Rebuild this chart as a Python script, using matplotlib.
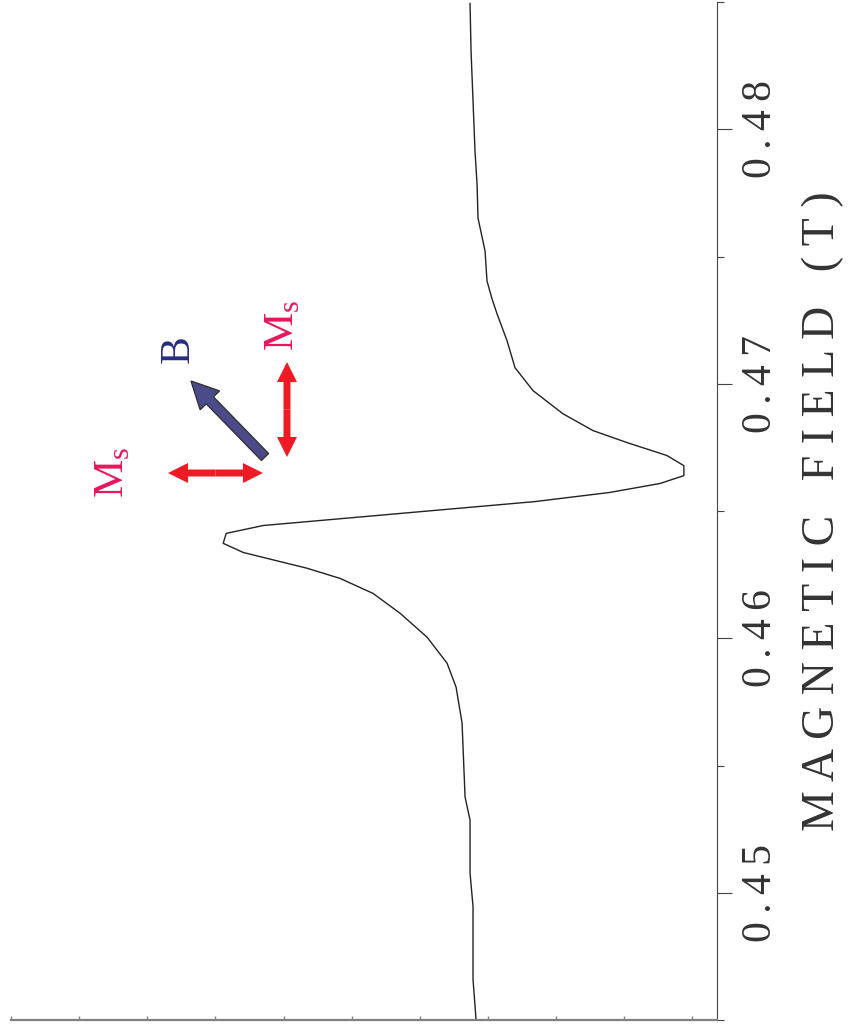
import matplotlib.pyplot as plt
from matplotlib.patches import FancyArrow
from matplotlib.ticker import MultipleLocator, FuncFormatter

plt.rcParams['font.family'] = ['Liberation Serif', 'DejaVu Serif']
plt.rcParams['mathtext.fontset'] = 'custom'
plt.rcParams['mathtext.rm'] = 'Liberation Serif'

# FMR derivative trace: field (T) against dP/dB (arb. units)
field = [0.44502, 0.44659, 0.44788, 0.44945, 0.45078, 0.45286, 0.45376,
         0.45667, 0.45808, 0.45902, 0.46004, 0.46098, 0.46176, 0.46235,
         0.46275, 0.46337, 0.46373, 0.46412, 0.46443, 0.46537, 0.46573,
         0.46608, 0.46639, 0.46678, 0.46718, 0.46769, 0.46816, 0.46882,
         0.46973, 0.47063, 0.47169, 0.47275, 0.47333, 0.47404, 0.47522,
         0.47651, 0.47784, 0.47914, 0.48110, 0.48306, 0.48494]
signal = [-0.176, -0.220, -0.220, -0.220, -0.264, -0.264, -0.337,
          -0.381, -0.469, -0.601, -0.894, -1.290, -1.686, -2.170,
          -2.654, -3.592, -3.886, -3.842, -3.299, 0.689, 1.789,
          2.522, 2.874, 2.874, 2.625, 2.038, 1.540, 1.100,
          0.660, 0.396, 0.279, 0.132, 0.059, -0.015, -0.044,
          -0.147, -0.161, -0.191, -0.220, -0.249, -0.264]

field_ticks = [0.45, 0.46, 0.47, 0.48]

W, H = 852, 1030
fig = plt.figure(figsize=(W / 100, H / 100), dpi=100)
ax = fig.add_axes([11 / W, 10 / H, 706 / W, 1018 / H])

ax.plot(signal, field, color='#222222', lw=1.0)
ax.set_xlim(-7, 3.36)
ax.set_ylim(0.445, 0.485)

for side in ('left', 'top'):
    ax.spines[side].set_visible(False)
ax.spines['bottom'].set_color('#808080')
ax.spines['bottom'].set_linewidth(1.6)
ax.spines['right'].set_color('#444444')
ax.spines['right'].set_linewidth(0.8)

ax.xaxis.set_major_locator(MultipleLocator(1))
ax.tick_params(axis='x', direction='in', length=3, width=1, color='#808080',
               labelbottom=False)

ax.yaxis.tick_right()
ax.yaxis.set_label_position('right')
ax.set_yticks(field_ticks)
ax.yaxis.set_minor_locator(MultipleLocator(0.005))
ax.yaxis.set_major_formatter(
    FuncFormatter(lambda v, pos: '\u2009'.join(f'{v:.2f}')))
ax.tick_params(axis='y', which='major', direction='out', length=10.5,
               width=0.8, color='#444444', pad=7, labelsize=30,
               labelcolor='#333333', labelrotation=90)
ax.tick_params(axis='y', which='minor', direction='out', length=5,
               width=0.8, color='#444444')
for lbl in ax.get_yticklabels():
    lbl.set_va('center')

ax.set_ylabel('M A G N E T I C   F I E L D   ( T )', fontsize=33,
              color='#333333', rotation=90, labelpad=16)

# sketch of the field and magnetisation directions
ov = fig.add_axes([0, 0, 1, 1])
ov.set_xlim(0, W)
ov.set_ylim(H, 0)
ov.axis('off')
ov.patch.set_alpha(0)

red = '#ED1C24'
pink = '#E5175A'
navy = '#262C80'


def double_arrow(x0, y0, x1, y1):
    xm, ym = (x0 + x1) / 2, (y0 + y1) / 2
    for xe, ye in ((x0, y0), (x1, y1)):
        ov.add_patch(FancyArrow(xm, ym, xe - xm, ye - ym, width=7,
                                head_width=20, head_length=20,
                                length_includes_head=True, color=red,
                                lw=0))


double_arrow(168, 473, 263, 473)
double_arrow(287, 362, 287, 457)
ov.add_patch(FancyArrow(265, 457, 191 - 265, 381 - 457, width=10,
                        head_width=27, head_length=27,
                        length_includes_head=True, fc='#4B4B8C',
                        ec='#333333', lw=1.0))

ov.text(179, 349, 'B', color=navy, fontsize=30, rotation=90,
        ha='center', va='center')
ov.text(113, 472, r'M$_\mathregular{s}$', color=pink, fontsize=31,
        rotation=90, ha='center', va='center')
ov.text(283, 325, r'M$_\mathregular{s}$', color=pink, fontsize=31,
        rotation=90, ha='center', va='center')

fig.savefig('out.png', dpi=100)
